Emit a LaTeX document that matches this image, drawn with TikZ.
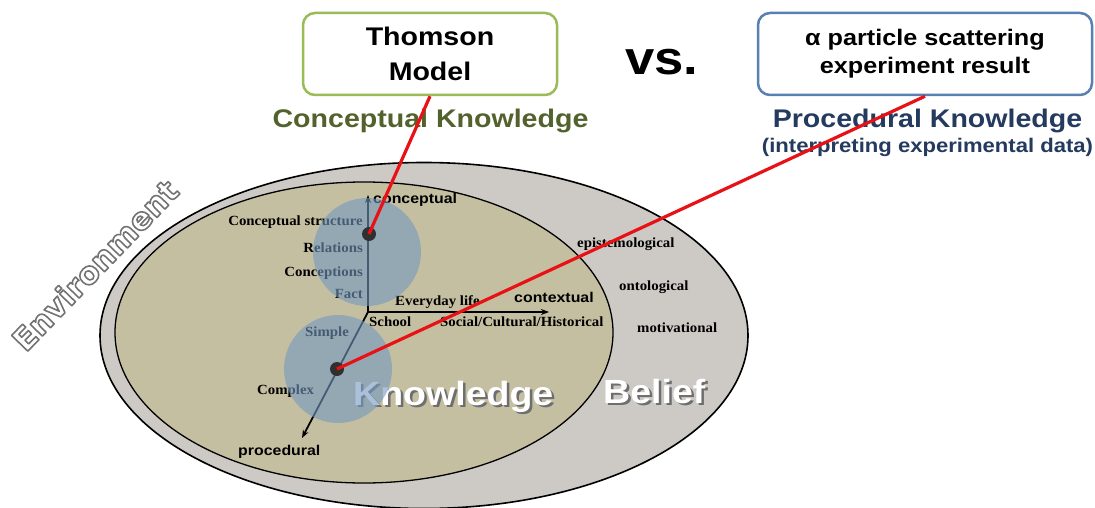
\documentclass[tikz,border=0pt]{standalone}
\usepackage{fontspec}
\setmainfont{Liberation Serif}
\newfontfamily\hsans[FakeStretch=1.12]{Liberation Sans}
\newfontfamily\hserif[FakeStretch=1.06]{Liberation Serif}
\newfontfamily\envfont{DejaVu Sans}
\usetikzlibrary{arrows.meta}
\definecolor{outerfill}{RGB}{205,201,196}
\definecolor{innerfill}{RGB}{197,191,161}
\definecolor{bubble}{RGB}{116,153,193}
\definecolor{greenborder}{RGB}{155,187,89}
\definecolor{greentext}{RGB}{82,98,45}
\definecolor{blueborder}{RGB}{88,128,178}
\definecolor{bluetext}{RGB}{36,58,94}
\definecolor{redline}{RGB}{232,18,22}
\definecolor{dotgray}{RGB}{48,48,48}
\definecolor{shadowgray}{RGB}{110,110,110}
\newcommand{\outlinedtext}[1]{\special{pdf:literal direct 0.45 G 1.6 w 1 j 2 Tr}#1\special{pdf:literal direct 0 Tr}}
\begin{document}
\begin{tikzpicture}[x=1pt,y=-1pt,
  lbl/.style={font=\hserif\bfseries\fontsize{14}{16}\selectfont, inner sep=0pt, text=black},
  axl/.style={font=\hsans\bfseries\fontsize{14.2}{16}\selectfont, inner sep=0pt, text=black},
  big/.style={font=\hsans\bfseries\fontsize{33.5}{36}\selectfont, inner sep=0pt},
  envtxt/.style={font=\envfont\bfseries\fontsize{31}{31}\selectfont, inner sep=0pt, rotate=46},
  tbox/.style={draw, rounded corners=12pt, line width=2.5pt, fill=white, align=center,
    inner sep=0pt, minimum height=82pt},
  axisline/.style={line width=1.8pt, draw=black, -{Stealth[length=8pt,width=6pt]}},
  bubblefill/.style={fill=bubble, opacity=0.6},
  dot/.style={circle, fill=dotgray, minimum size=14pt, inner sep=0pt},
  redl/.style={draw=redline, line width=3.2pt},
  title/.style={font=\hsans\bfseries\fontsize{25.5}{30}\selectfont, inner sep=0pt, anchor=base}
]
\useasboundingbox (0,0) rectangle (1095,508);
\fill[white] (0,0) rectangle (1095,508);

% ellipses
\path[draw=black, line width=1.6pt, fill=outerfill] (424,335.5) ellipse [x radius=324pt, y radius=173pt];
\path[draw=black, line width=1.3pt, fill=innerfill] (364,332.5) ellipse [x radius=249pt, y radius=150.5pt];

% Environment (outlined)
\node[envtxt, text=white] (env) at (95,265) {\outlinedtext{Environment}};

% labels
\node[lbl, anchor=base east] (cs) at (363,225) {Conceptual structure};
\node[lbl, anchor=base east] (rel) at (363,252) {Relations};
\node[lbl, anchor=base east] (conc) at (363,276) {Conceptions};
\node[lbl, anchor=base east] (fact) at (363,298) {Fact};
\node[lbl, anchor=base west] (simple) at (305,336) {Simple};
\node[lbl, anchor=base west] (complex) at (257,394) {Complex};
\node[lbl, anchor=base west] (every) at (395,305) {Everyday life};
\node[lbl, anchor=base west] (school) at (369,326) {School};
\node[lbl, anchor=base west] (social) at (440,326) {Social/Cultural/Historical};
\node[lbl, anchor=base west] (epi) at (577,247) {epistemological};
\node[lbl, anchor=base west] (onto) at (619,290) {ontological};
\node[lbl, anchor=base west] (moti) at (637,332) {motivational};

\node[axl, anchor=base west] (conceptual) at (373,203) {conceptual};
\node[axl, anchor=base west] (contextual) at (514,302) {contextual};
\node[axl, anchor=base west] (procedural) at (238,455) {procedural};

% Knowledge / Belief
\node[big, text=shadowgray, anchor=base west] (knowS) at (355.5,407.5) {Knowledge};
\node[big, text=white, anchor=base west] (know) at (353,405) {Knowledge};
\node[big, text=shadowgray, anchor=base west] (beliefS) at (605.5,405.5) {Belief};
\node[big, text=white, anchor=base west] (belief) at (603,403) {Belief};

% axes
\coordinate (O) at (368,312);
\coordinate (up) at (368,195);
\coordinate (rt) at (549,312);
\coordinate (dn) at (302,438);
\draw[axisline] (O) -- (up);
\draw[axisline] (O) -- (rt);
\draw[axisline] (O) -- (dn);

% bubbles
\path[bubblefill] (367,252) circle [radius=54pt];
\path[bubblefill] (338,369) circle [radius=54pt];

% dots
\node[dot] (dotA) at (369,234) {};
\node[dot] (dotB) at (337,369) {};

% boxes and titles
\node[tbox, draw=greenborder, minimum width=254pt,
  font=\hsans\bfseries\fontsize{25.5}{35}\selectfont] (thomson) at (430,54) {Thomson\\Model};
\node[tbox, draw=blueborder, minimum width=334pt,
  font=\hsans\bfseries\fontsize{22.5}{28}\selectfont] (alpha) at (925,54) {α particle scattering\\experiment result};
\node[font=\hsans\bfseries\fontsize{47}{50}\selectfont, inner sep=0pt, anchor=base] (vs) at (662,75) {vs.};
\node[title, text=greentext] (ck) at (430.5,128) {Conceptual Knowledge};
\node[title, text=bluetext] (pk) at (927.5,128) {Procedural Knowledge};
\node[font=\hsans\bfseries\fontsize{19.7}{22}\selectfont, inner sep=0pt, anchor=base, text=bluetext] (pk2) at (927.5,153) {(interpreting experimental data)};

% red connectors
\draw[redl] (thomson.south) -- (dotA.center);
\draw[redl] (alpha.south) -- (dotB.center);
\end{tikzpicture}
\end{document}
